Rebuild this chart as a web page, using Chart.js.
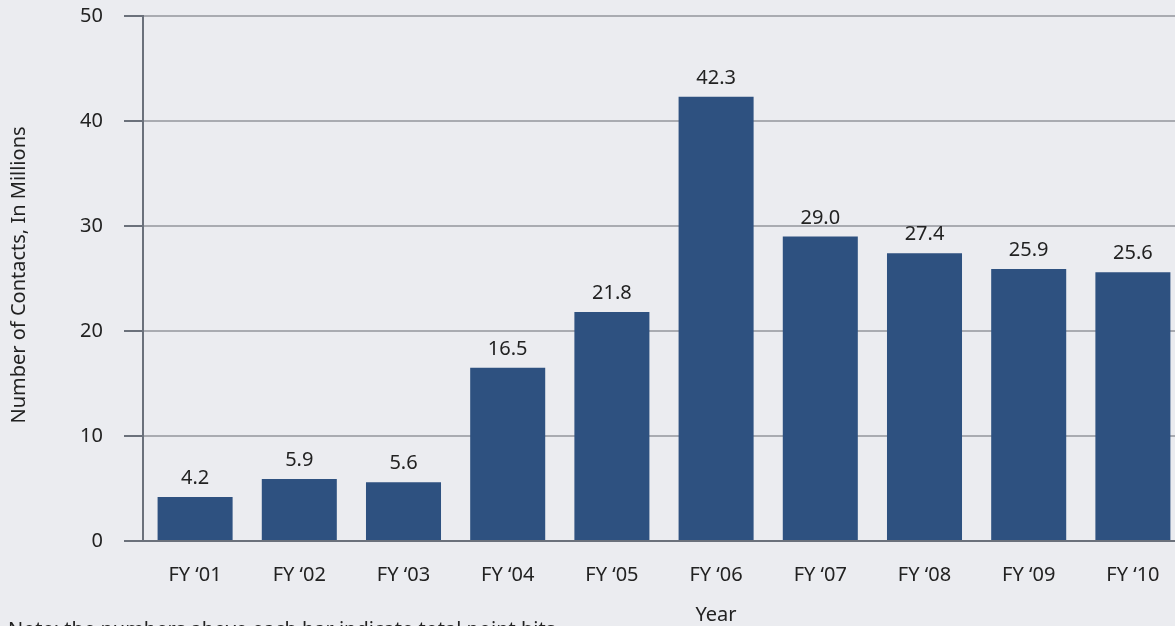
<!DOCTYPE html>
<html>
<head>
<meta charset="utf-8">
<script src="https://cdn.jsdelivr.net/npm/chart.js@4/dist/chart.umd.min.js"></script>
<style>
  html, body { margin: 0; padding: 0; background: #ebecf0; overflow: hidden; }
  #wrap { width: 1185px; height: 626px; }
</style>
</head>
<body>
<div id="wrap"><canvas id="chart1" width="1185" height="626"></canvas></div>
<script>
// Contacts per fiscal year (millions)
const years = ['FY ‘01', 'FY ‘02', 'FY ‘03', 'FY ‘04', 'FY ‘05', 'FY ‘06', 'FY ‘07', 'FY ‘08', 'FY ‘09', 'FY ‘10'];
const contacts = [4.2, 5.9, 5.6, 16.5, 21.8, 42.3, 29.0, 27.4, 25.9, 25.6];
const yTicks = [0, 10, 20, 30, 40, 50];

const FONT = "'Noto Sans', 'Open Sans', sans-serif";
const TEXT = '#222222';
const DARK = '#6b717b';

// values on top of the bars + axis titles and footnote
const labelsPlugin = {
    id: 'labels',
    afterDatasetsDraw(chart) {
        const ctx = chart.ctx;
        const meta = chart.getDatasetMeta(0);
        ctx.save();
        ctx.fillStyle = TEXT;
        ctx.font = '20px ' + FONT;
        ctx.textAlign = 'center';
        ctx.textBaseline = 'alphabetic';
        meta.data.forEach((bar, i) => {
            ctx.fillText(contacts[i].toFixed(1), bar.x, bar.y - 13);
        });

        ctx.fillText('Year', 716, 621);

        ctx.translate(19, 275);
        ctx.rotate(-Math.PI / 2);
        ctx.textBaseline = 'middle';
        ctx.fillText('Number of Contacts, In Millions', 0, 0);
        ctx.restore();

        ctx.save();
        ctx.fillStyle = TEXT;
        ctx.font = '20px ' + FONT;
        ctx.textAlign = 'left';
        ctx.fillText('Note: the numbers above each bar indicate total point hits.', 8, 636);
        ctx.restore();
    }
};

const config1 = {
    type: 'bar',
    data: {
        labels: years,
        datasets: [{
            data: contacts,
            backgroundColor: '#2e5180',
            barPercentage: 0.72,
            categoryPercentage: 1
        }]
    },
    options: {
        responsive: false,
        animation: false,
        layout: { padding: { top: 16, left: 0, right: 0, bottom: 0 } },
        plugins: {
            legend: { display: false },
            tooltip: { enabled: false }
        },
        scales: {
            x: {
                grid: { display: false, drawTicks: false },
                border: { display: false },
                ticks: { color: TEXT, font: { size: 20, family: FONT }, padding: 22 },
                afterFit(scale) { scale.height = 85; }
            },
            y: {
                min: 0,
                max: 50,
                afterBuildTicks(scale) { scale.ticks = yTicks.map(v => ({ value: v })); },
                grid: {
                    color: c => c.tick && c.tick.value === 0 ? DARK : '#a9abb1',
                    lineWidth: 2,
                    tickColor: DARK,
                    tickLength: 19
                },
                border: { display: true, color: DARK, width: 2 },
                ticks: { color: TEXT, font: { size: 20, family: FONT }, padding: 21 },
                afterFit(scale) {
                    scale.width = 143;
                    scale.paddingTop = 0;
                    scale.paddingBottom = 0;
                }
            }
        }
    },
    plugins: [labelsPlugin]
};

new Chart(document.getElementById('chart1'), config1);
</script>
</body>
</html>
